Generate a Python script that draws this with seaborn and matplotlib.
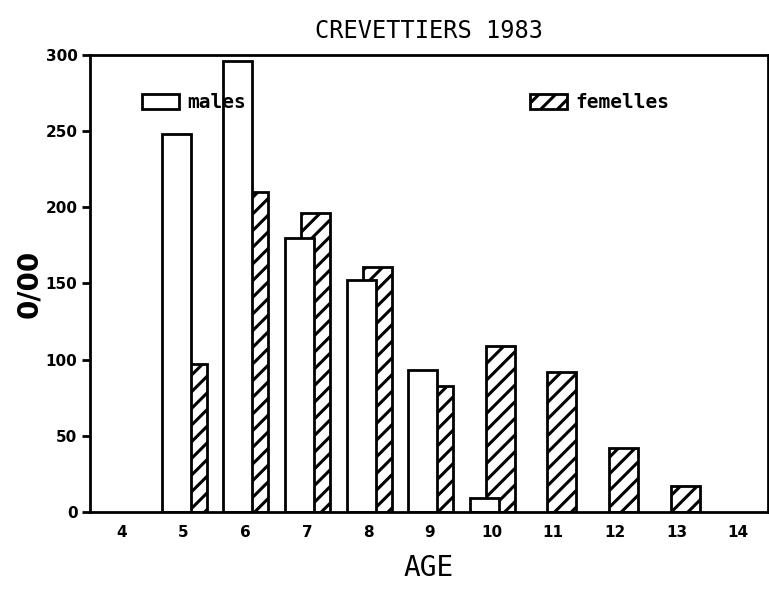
import pandas as pd
import numpy as np
import matplotlib
matplotlib.use("Agg")
import matplotlib.pyplot as plt
import seaborn as sns

# data (per mille by age)
ages = [4, 5, 6, 7, 8, 9, 10, 11, 12, 13, 14]
male_ages = [5, 6, 7, 8, 9, 10]
males = [248, 296, 180, 152, 93, 9]
female_ages = [5, 6, 7, 8, 9, 10, 11, 12, 13]
femelles = [97, 210, 196, 161, 83, 109, 92, 42, 17]

sns.set_style("white")
plt.rcParams["font.family"] = ["DejaVu Sans"]
plt.rcParams["hatch.linewidth"] = 2.2
plt.rcParams["hatch.color"] = "black"
for k in ["text.color", "axes.labelcolor", "xtick.color", "ytick.color"]:
    plt.rcParams[k] = "black"

dm = pd.DataFrame({"x": np.array(male_ages) - 0.12, "val": males})
df = pd.DataFrame({"x": np.array(female_ages) + 0.14, "val": femelles})

fig = plt.figure(figsize=(7.69, 5.9), dpi=100)
ax = fig.add_axes([0.117, 0.132, 0.882, 0.775])

# femelles behind, males in front
sns.barplot(data=df, x="x", y="val", native_scale=True, width=0.47,
            color="white", edgecolor="black", linewidth=2, hatch="//",
            errorbar=None, ax=ax, label="femelles")
sns.barplot(data=dm, x="x", y="val", native_scale=True, width=0.47,
            color="white", edgecolor="black", linewidth=2,
            errorbar=None, ax=ax, label="males")

ax.set_xlim(3.48, 14.49)
ax.set_ylim(0, 300)
ax.set_xticks(ages)
ax.set_xticklabels([str(a) for a in ages], fontsize=11, fontweight="bold")
ax.set_yticks([0, 50, 100, 150, 200, 250, 300])
ax.set_yticklabels(["0", "50", "100", "150", "200", "250", "300"],
                   fontsize=11, fontweight="bold")
ax.tick_params(axis="y", direction="out", length=6, width=2, pad=3, left=True)
ax.tick_params(axis="x", length=0, pad=9)
for s in ax.spines.values():
    s.set_linewidth(2)
    s.set_color("black")

ax.set_xlabel("AGE", fontsize=20, family="DejaVu Sans Mono", labelpad=10)
ax.set_ylabel("0/00", fontsize=20, fontweight="bold", labelpad=2)
ax.set_title("CREVETTIERS 1983", fontsize=17, family="DejaVu Sans Mono", pad=12)

handles = {h.get_label(): h for h in ax.containers}
legend_font = {"family": "DejaVu Sans Mono", "weight": "bold", "size": 14}
leg1 = ax.legend([handles["males"].patches[0]], ["males"], loc="center left",
                 bbox_to_anchor=(0.077, 0.895), frameon=False, borderpad=0,
                 borderaxespad=0, handlelength=1.9, handleheight=0.8,
                 handletextpad=0.4, prop=legend_font)
ax.add_artist(leg1)
ax.legend([handles["femelles"].patches[0]], ["femelles"], loc="center left",
          bbox_to_anchor=(0.649, 0.895), frameon=False, borderpad=0,
          borderaxespad=0, handlelength=1.9, handleheight=0.8,
          handletextpad=0.4, prop=legend_font)

plt.savefig("out.png", dpi=100)
